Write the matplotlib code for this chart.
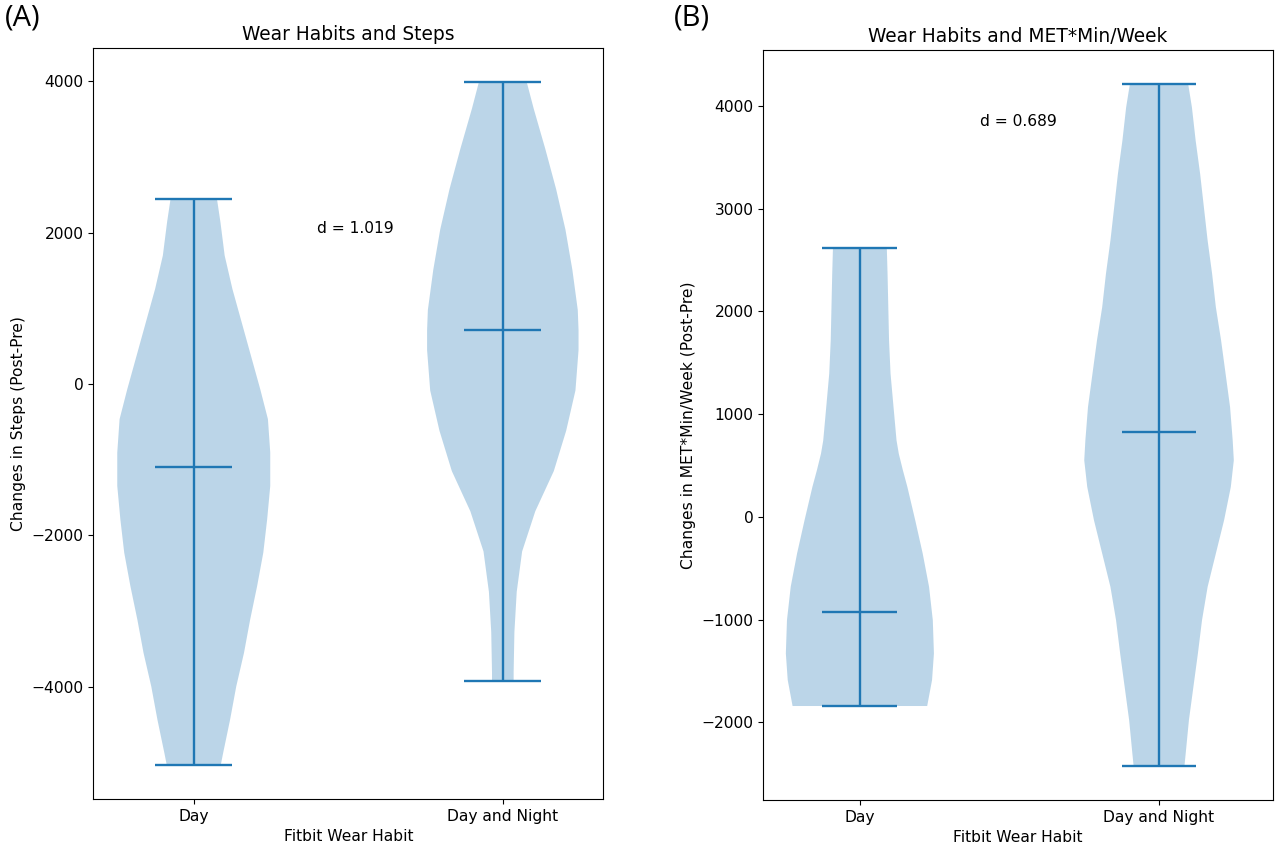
"""Violin plots: Fitbit wear habit vs changes in steps and MET*min/week."""

import matplotlib
matplotlib.use("Agg")
import matplotlib.pyplot as plt
import numpy as np

# Categories
habits = ["Day", "Day and Night"]

# Violin outlines: y value and relative half-width
# (1.0 = widest point). First/last y are the max/min of each group.
steps_day_y = [2450, 2142, 1699, 1258, 817, 375, -66, -464, -905, -1347,
               -1788, -2229, -2671, -3113, -3554, -3996, -4437, -4878, -5033]
steps_day_w = [0.30, 0.345, 0.40, 0.50, 0.62, 0.74, 0.86, 0.96, 0.99, 0.99,
               0.95, 0.90, 0.82, 0.73, 0.65, 0.55, 0.47, 0.38, 0.35]
steps_night_y = [3990, 3639, 3107, 2576, 2044, 1511, 980, 715, 448, -85,
                 -617, -1150, -1682, -2212, -2746, -3278, -3809, -3921]
steps_night_w = [0.31, 0.40, 0.55, 0.69, 0.81, 0.90, 0.97, 0.98, 0.98, 0.94,
                 0.82, 0.66, 0.42, 0.25, 0.18, 0.15, 0.14, 0.14]
steps_means = [-1100, 715]

met_day_y = [2621, 2365, 2041, 1717, 1394, 1069, 745, 616, 454, 292, -32,
             -356, -680, -1004, -1328, -1587, -1840]
met_day_w = [0.36, 0.37, 0.38, 0.39, 0.41, 0.45, 0.49, 0.52, 0.575, 0.635,
             0.74, 0.84, 0.925, 0.975, 0.99, 0.965, 0.90]
met_night_y = [4212, 3985, 3661, 3337, 3013, 2689, 2365, 2041, 1717, 1394,
               1069, 745, 551, 292, -32, -356, -680, -1004, -1328, -1652,
               -1976, -2299, -2423]
met_night_w = [0.39, 0.44, 0.49, 0.55, 0.60, 0.65, 0.71, 0.76, 0.83, 0.89,
               0.95, 0.985, 1.00, 0.96, 0.87, 0.76, 0.65, 0.575, 0.52, 0.46,
               0.40, 0.357, 0.34]
met_means = [-929, 826]

effect_sizes = ["d = 1.019", "d = 0.689"]

COLOR = "#1f77b4"
WIDTH = 0.5
FS = 11.2


def draw_violin(ax, pos, ys, ws, mean):
    ys = np.asarray(ys, dtype=float)
    half = np.asarray(ws) * WIDTH / 2
    ax.fill_betweenx(ys, pos - half, pos + half, facecolor=COLOR,
                     alpha=0.3, linewidth=0)
    cap = WIDTH / 4
    ax.vlines(pos, ys.min(), ys.max(), color=COLOR, linewidth=1.7)
    ax.hlines([ys.max(), ys.min(), mean], pos - cap, pos + cap,
              color=COLOR, linewidth=1.7)


fig = plt.figure(figsize=(12.8, 8.5), dpi=100)
ax1 = fig.add_axes([0.0729, 0.06, 0.3984, 0.8835])
ax2 = fig.add_axes([0.5963, 0.0588, 0.398, 0.8824])

# (A) steps
draw_violin(ax1, 1, steps_day_y, steps_day_w, steps_means[0])
draw_violin(ax1, 2, steps_night_y, steps_night_w, steps_means[1])
ax1.set_xlim(0.675, 2.325)
ax1.text(1.4, 2000, effect_sizes[0], fontsize=FS)
ax1.set_title("Wear Habits and Steps", fontsize=FS * 1.2)
ax1.set_ylabel("Changes in Steps (Post-Pre)", fontsize=FS)

# (B) MET*min/week
draw_violin(ax2, 1, met_day_y, met_day_w, met_means[0])
draw_violin(ax2, 2, met_night_y, met_night_w, met_means[1])
ax2.set_xlim(0.677, 2.38)
ax2.text(1.4, 3800, effect_sizes[1], fontsize=FS)
ax2.set_title("Wear Habits and MET*Min/Week", fontsize=FS * 1.2)
ax2.set_ylabel("Changes in MET*Min/Week (Post-Pre)", fontsize=FS)

for ax in (ax1, ax2):
    ax.set_xticks([1, 2])
    ax.set_xticklabels(habits)
    ax.set_xlabel("Fitbit Wear Habit", fontsize=FS)
    ax.tick_params(labelsize=FS)

fig.text(0.0176, 0.979, "(A)", fontsize=21, family="Open Sans",
         ha="center", va="center")
fig.text(0.5406, 0.979, "(B)", fontsize=21, family="Open Sans",
         ha="center", va="center")

fig.savefig("out.png", dpi=100)
plt.close(fig)
